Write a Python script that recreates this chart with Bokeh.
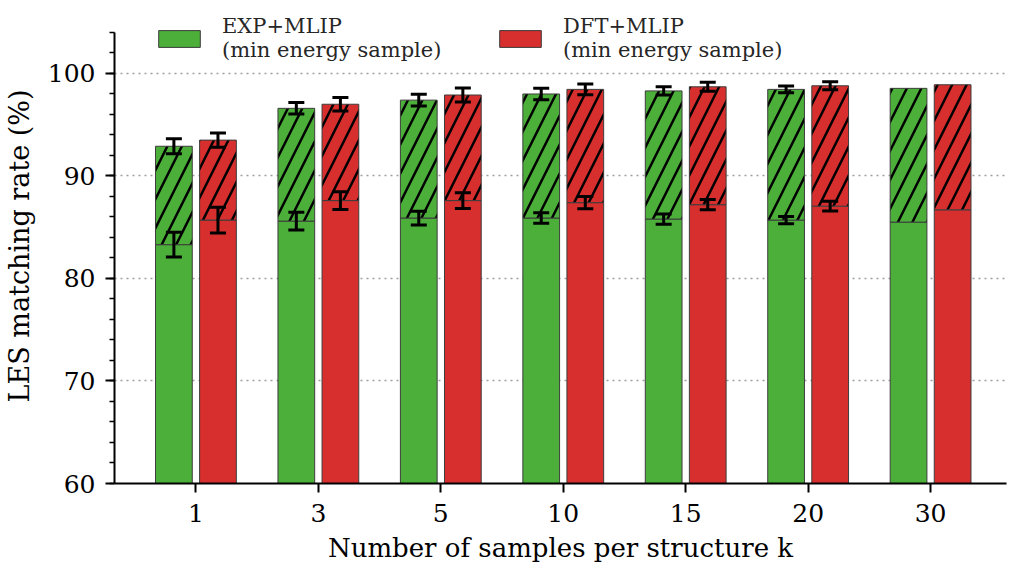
from bokeh.plotting import figure
from bokeh.models import (ColumnDataSource, Range1d, FixedTicker, SingleIntervalTicker,
                          Whisker, TeeHead, Legend, LegendItem)
from bokeh.embed import file_html
from bokeh.resources import INLINE

# ---- data ----
k_labels = ["1", "3", "5", "10", "15", "20", "30"]
exp_top = [92.9, 96.6, 97.4, 98.0, 98.3, 98.45, 98.55]
exp_top_err = [0.73, 0.56, 0.57, 0.55, 0.40, 0.32]
exp_min = [83.3, 85.6, 85.9, 85.9, 85.8, 85.7, 85.5]
exp_min_err = [1.20, 0.87, 0.67, 0.52, 0.50, 0.36]
dft_top = [93.5, 97.0, 97.9, 98.45, 98.7, 98.8, 98.9]
dft_top_err = [0.70, 0.65, 0.68, 0.52, 0.44, 0.39]
dft_min = [85.7, 87.6, 87.6, 87.4, 87.2, 87.06, 86.7]
dft_min_err = [1.25, 0.87, 0.76, 0.60, 0.50, 0.48]

GREEN = "#4caf3a"
RED = "#d72e2e"
FONT = "DejaVu Serif"
OFF = 0.18
W = 0.30

idx = list(range(len(k_labels)))

p = figure(width=1008, height=572, output_backend="svg", toolbar_location=None,
           x_range=Range1d(-0.665, 6.62), y_range=Range1d(60, 106.34),
           min_border_left=104, min_border_right=2, min_border_top=8, min_border_bottom=89)
p.outline_line_color = None
p.background_fill_color = "white"

def bars(offset, top, low, color):
    xs = [i + offset for i in idx]
    src_low = ColumnDataSource(dict(x=xs, top=low, bottom=[0] * len(low)))
    src_up = ColumnDataSource(dict(x=xs, top=top, bottom=low))
    r1 = p.vbar(x="x", top="top", bottom="bottom", width=W, source=src_low,
                fill_color=color, line_color="#3d3d3d", line_width=1)
    p.vbar(x="x", top="top", bottom="bottom", width=W, source=src_up,
           fill_color=color, line_color="#3d3d3d", line_width=1,
           hatch_pattern="/", hatch_color="black", hatch_weight=2.5, hatch_scale=29)
    return r1

def whiskers(offset, center, err):
    n = len(err)
    xs = [i + offset for i in idx[:n]]
    src = ColumnDataSource(dict(x=xs,
                                lo=[center[i] - err[i] for i in range(n)],
                                hi=[center[i] + err[i] for i in range(n)]))
    w = Whisker(base="x", lower="lo", upper="hi", source=src, dimension="height",
                line_color="black", line_width=3, level="overlay",
                upper_head=TeeHead(size=16, line_width=3, line_color="black"),
                lower_head=TeeHead(size=16, line_width=3, line_color="black"))
    p.add_layout(w)

r_exp = bars(-OFF, exp_top, exp_min, GREEN)
r_dft = bars(OFF, dft_top, dft_min, RED)
whiskers(-OFF, exp_top, exp_top_err)
whiskers(-OFF, exp_min, exp_min_err)
whiskers(OFF, dft_top, dft_top_err)
whiskers(OFF, dft_min, dft_min_err)

# ---- axes ----
p.xaxis.ticker = FixedTicker(ticks=idx)
p.xaxis.major_label_overrides = {i: lab for i, lab in zip(idx, k_labels)}
p.xaxis.minor_tick_line_color = None
p.yaxis.ticker = SingleIntervalTicker(interval=10, num_minor_ticks=5)
p.yaxis.bounds = (60, 104)

for ax in (p.xaxis, p.yaxis):
    ax.axis_line_width = 2
    ax.axis_line_color = "black"
    ax.major_tick_line_width = 2
    ax.major_tick_line_color = "black"
    ax.major_tick_out = 9
    ax.major_tick_in = 0
    ax.minor_tick_out = 5
    ax.minor_tick_in = 0
    ax.minor_tick_line_width = 1.5
    ax.major_label_text_font = FONT
    ax.major_label_text_font_size = "25px"
    ax.major_label_text_color = "black"
    ax.axis_label_text_font = FONT
    ax.axis_label_text_font_style = "normal"
    ax.axis_label_text_color = "black"

p.xaxis.major_label_standoff = 11
p.xaxis.axis_label = "Number of samples per structure k"
p.xaxis.axis_label_text_font_size = "26px"
p.xaxis.axis_label_standoff = 8
p.yaxis.major_label_standoff = 10
p.yaxis.axis_label = "LES matching rate (%)"
p.yaxis.axis_label_text_font_size = "27px"
p.yaxis.axis_label_standoff = 10

p.xgrid.grid_line_color = None
p.ygrid.ticker = FixedTicker(ticks=[70, 80, 90, 100])
p.ygrid.grid_line_color = "#9e9e9e"
p.ygrid.grid_line_width = 1.5
p.ygrid.grid_line_dash = "2 4"

# ---- legends ----
def make_legend(r, label, x):
    lg = Legend(items=[LegendItem(label=label, renderers=[r])], location=(x, 421),
                glyph_width=52, glyph_height=21, label_standoff=17,
                padding=0, margin=0, border_line_color=None, background_fill_alpha=0,
                label_text_font=FONT, label_text_font_size="21px",
                label_text_color="#262626", label_text_line_height=1.1)
    p.add_layout(lg)

make_legend(r_exp, "EXP+MLIP\n(min energy sample)", 39)
make_legend(r_dft, "DFT+MLIP\n(min energy sample)", 380)

open("out.html", "w").write(file_html(p, INLINE))
